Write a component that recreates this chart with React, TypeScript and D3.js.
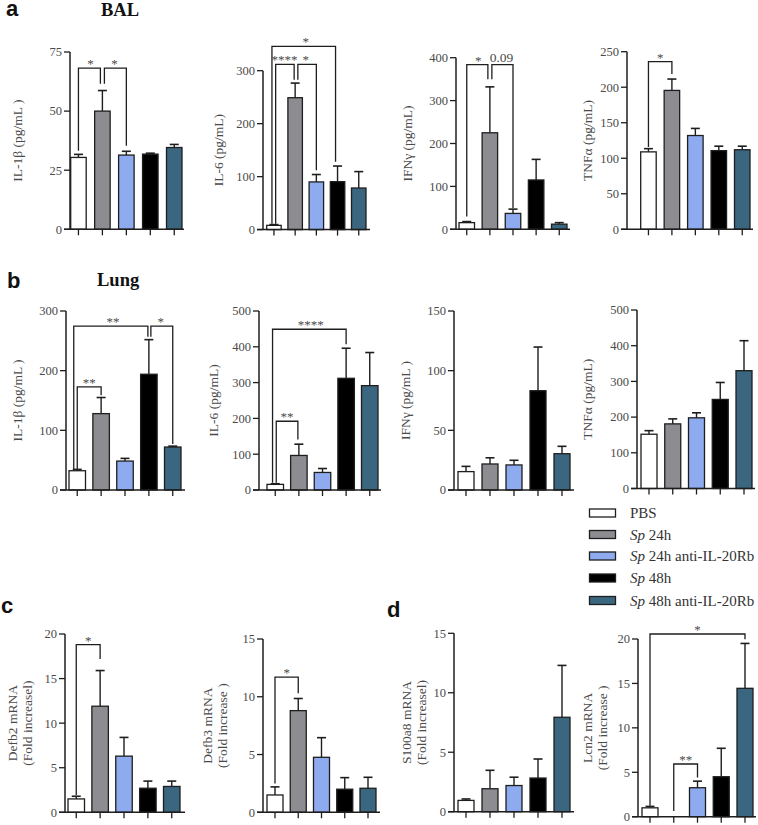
import React from "react";
import * as d3 from "d3";

// ---------- DATA ----------
const groups = ["PBS", "Sp 24h", "Sp 24h anti-IL-20Rb", "Sp 48h", "Sp 48h anti-IL-20Rb"];
const groupColors = ["#ffffff", "#8d8c91", "#8fabf0", "#000000", "#3b6680"];

const balIL1bMean = [30.4, 50, 31.4, 31.8, 34.6];
const balIL1bErr = [1.3, 8.7, 1.6, 0.4, 1.3];
const balIL6Mean = [8, 249, 90, 90.5, 78.5];
const balIL6Err = [1.5, 27.6, 14, 29.5, 31];
const balIFNgMean = [15.5, 225, 37, 115, 12];
const balIFNgErr = [2.5, 107, 10, 48, 3.5];
const balTNFaMean = [109, 195.5, 132, 110.7, 112];
const balTNFaErr = [4.5, 16, 10, 6.3, 5];

const lungIL1bMean = [32.3, 128, 48.5, 194, 72];
const lungIL1bErr = [2.2, 27, 4.5, 58, 1.5];
const lungIL6Mean = [15.7, 96.5, 49, 312, 291.5];
const lungIL6Err = [1.8, 31.5, 11, 84, 92.5];
const lungIFNgMean = [15.4, 21.8, 21, 83.2, 30.4];
const lungIFNgErr = [4.4, 5.2, 3.9, 36.6, 6.2];
const lungTNFaMean = [152, 181, 198, 249.5, 330];
const lungTNFaErr = [10, 14, 14, 47.5, 84];

const defb2Mean = [1.5, 11.9, 6.3, 2.7, 2.9];
const defb2Err = [0.3, 4, 2.1, 0.8, 0.6];
const defb3Mean = [1.5, 8.8, 4.76, 2.0, 2.08];
const defb3Err = [0.7, 1.05, 1.7, 1.0, 0.95];
const s100a8Mean = [0.95, 1.93, 2.2, 2.83, 7.94];
const s100a8Err = [0.12, 1.55, 0.7, 1.6, 4.36];
const lcn2Mean = [1.0, null, 3.26, 4.5, 14.45];
const lcn2Err = [0.16, null, 0.74, 3.2, 5.05];

// ticks
const balIL1bTicks = [0, 25, 50, 75];
const balIL6Ticks = [0, 100, 200, 300];
const balIFNgTicks = [0, 100, 200, 300, 400];
const balTNFaTicks = [0, 50, 100, 150, 200, 250];
const lungIL1bTicks = [0, 100, 200, 300];
const lungIL6Ticks = [0, 100, 200, 300, 400, 500];
const lungIFNgTicks = [0, 50, 100, 150];
const lungTNFaTicks = [0, 100, 200, 300, 400, 500];
const defb2Ticks = [0, 5, 10, 15, 20];
const defb3Ticks = [0, 5, 10, 15];
const s100a8Ticks = [0, 5, 10, 15];
const lcn2Ticks = [0, 5, 10, 15, 20];

// significance brackets: [from, to, level, leftEnd, rightEnd, label]
const balIL1bSig = [
  [0, 1, 68.2, 33.2, 61.6, "*"],
  [1, 2, 68.2, 61.6, 35.3, "*"],
];
const balIL6Sig = [
  [0, 3, 346, 11, 128, "*"],
  [0, 1, 312, 11, 283, "****"],
  [1, 2, 312, 283, 112, "*"],
];
const balIFNgSig = [
  [0, 1, 384, 30, 350, "*"],
  [1, 2, 384, 350, 49, "0.09"],
];
const balTNFaSig = [[0, 1, 236, 116, 218.5, "*"]];
const lungIL1bSig = [
  [0, 3, 274.6, 35, 257, "**"],
  [3, 4, 274.6, 257, 77, "*"],
  [0, 1, 173, 35, 159, "**"],
];
const lungIL6Sig = [
  [0, 3, 449, 20, 407, "****"],
  [0, 1, 192, 20, 141, "**"],
];
const defb2Sig = [[0, 1, 18.8, 1.9, 17.2, "*"]];
const defb3Sig = [[0, 1, 11.7, 2.5, 10.3, "*"]];
const lcn2Sig = [
  [0, 4, 20.56, 1.24, 19.96, "*"],
  [1, 2, 5.93, 0.64, 4.4, "**"],
];

// ---------- LAYOUT (pixels) ----------
const charts = [
  { mean: balIL1bMean, err: balIL1bErr, ticks: balIL1bTicks, sig: balIL1bSig, label: ["IL-1β (pg/mL )"],
    L: { axisX: 70, barL: 70.7, barR: 182, barW: 15.5, xEnd: 184, yTop: 52, y0: 229.3, labelX: [17] },
    off: [[0, -2], [2, 0]] },
  { mean: balIL6Mean, err: balIL6Err, ticks: balIL6Ticks, sig: balIL6Sig, label: ["IL-6 (pg/mL)"],
    L: { axisX: 263, barL: 266.7, barR: 366, barW: 14.5, xEnd: 370, yTop: 70.7, y0: 229.6, labelX: [218] },
    off: [[-2, -2], [1.7, -1], [2.7, 0]] },
  { mean: balIFNgMean, err: balIFNgErr, ticks: balIFNgTicks, sig: balIFNgSig, label: ["IFNγ (pg/mL)"],
    L: { axisX: 456, barL: 459, barR: 567, barW: 15.5, xEnd: 570, yTop: 57.7, y0: 229.3, labelX: [407] },
    off: [[0, -2], [2, 0]] },
  { mean: balTNFaMean, err: balTNFaErr, ticks: balTNFaTicks, sig: balTNFaSig, label: ["TNFα (pg/mL)"],
    L: { axisX: 627, barL: 640.7, barR: 750, barW: 15.5, xEnd: 753, yTop: 51.7, y0: 229.3, labelX: [587] },
    off: [[0, 0]] },
  { mean: lungIL1bMean, err: lungIL1bErr, ticks: lungIL1bTicks, sig: lungIL1bSig, label: ["IL-1β (pg/mL )"],
    L: { axisX: 66, barL: 69, barR: 181, barW: 16.5, xEnd: 185, yTop: 311, y0: 490, labelX: [17] },
    off: [[-3.5, -1], [2, 0], [0, 0]] },
  { mean: lungIL6Mean, err: lungIL6Err, ticks: lungIL6Ticks, sig: lungIL6Sig, label: ["IL-6 (pg/mL)"],
    L: { axisX: 259, barL: 267, barR: 378, barW: 16.5, xEnd: 381, yTop: 311, y0: 490, labelX: [213] },
    off: [[-2.7, 0], [1, -1]] },
  { mean: lungIFNgMean, err: lungIFNgErr, ticks: lungIFNgTicks, sig: [], label: ["IFNγ (pg/mL )"],
    L: { axisX: 454, barL: 458, barR: 570, barW: 16, xEnd: 574, yTop: 311, y0: 490, labelX: [405] },
    off: [] },
  { mean: lungTNFaMean, err: lungTNFaErr, ticks: lungTNFaTicks, sig: [], label: ["TNFα (pg/mL)"],
    L: { axisX: 637, barL: 641, barR: 752, barW: 16, xEnd: 755, yTop: 310, y0: 488.5, labelX: [587] },
    off: [] },
  { mean: defb2Mean, err: defb2Err, ticks: defb2Ticks, sig: defb2Sig, label: ["Defb2 mRNA", "(Fold increasel)"],
    L: { axisX: 65, barL: 68, barR: 180, barW: 16.5, xEnd: 185, yTop: 634, y0: 812.3, labelX: [12, 27] },
    off: [[0, 0]] },
  { mean: defb3Mean, err: defb3Err, ticks: defb3Ticks, sig: defb3Sig, label: ["Defb3 mRNA", "(Fold increase )"],
    L: { axisX: 263, barL: 267, barR: 376, barW: 16, xEnd: 380, yTop: 639, y0: 812.3, labelX: [207, 222] },
    off: [[0, 0]] },
  { mean: s100a8Mean, err: s100a8Err, ticks: s100a8Ticks, sig: [], label: ["S100a8 mRNA", "(Fold increasel)"],
    L: { axisX: 454, barL: 458, barR: 570, barW: 16, xEnd: 574, yTop: 633.3, y0: 811.7, labelX: [406, 421] },
    off: [] },
  { mean: lcn2Mean, err: lcn2Err, ticks: lcn2Ticks, sig: lcn2Sig, label: ["Lcn2 mRNA", "(Fold increase )"],
    L: { axisX: 638, barL: 642, barR: 753, barW: 16, xEnd: 756, yTop: 639, y0: 816.7, labelX: [587, 602] },
    off: [[0, 0], [0, 0]] },
];

const SERIF = "'Liberation Serif', 'Times New Roman', serif";
const SANS = "'Liberation Sans', Arial, sans-serif";
const INK = "#1e1e1e";
const TXT = "#4a4a4a";

function BarChart({ c }: { c: any }) {
  const L = c.L;
  const g = (L.barR - L.barL - 5 * L.barW) / 4;
  const pi = g / (L.barW + g);
  const x = d3.scaleBand<number>().domain([0, 1, 2, 3, 4]).range([L.barL, L.barR]).paddingInner(pi).paddingOuter(0);
  const maxV = c.ticks[c.ticks.length - 1];
  const y = d3.scaleLinear().domain([0, maxV]).range([L.y0, L.yTop]);
  const bw = x.bandwidth();
  const cx = (i: number) => (x(i) as number) + bw / 2;
  const yc = (L.yTop + L.y0) / 2;
  const capW = 9;
  return (
    <g>
      {c.mean.map((m: number | null, i: number) =>
        m == null ? null : (
          <g key={i}>
            <line x1={cx(i)} x2={cx(i)} y1={y(m)} y2={y(m + c.err[i])} stroke={INK} strokeWidth={1.4} />
            <line x1={cx(i) - capW / 2} x2={cx(i) + capW / 2} y1={y(m + c.err[i])} y2={y(m + c.err[i])} stroke={INK} strokeWidth={1.6} />
            <rect x={x(i)} y={y(m)} width={bw} height={L.y0 - y(m)} fill={groupColors[i]} stroke={INK} strokeWidth={1.3} />
          </g>
        )
      )}
      <line x1={L.axisX} x2={L.axisX} y1={L.yTop} y2={L.y0} stroke={INK} strokeWidth={1.5} />
      {c.ticks.map((t: number) => (
        <g key={t}>
          <line x1={L.axisX - 6} x2={L.axisX} y1={y(t)} y2={y(t)} stroke={INK} strokeWidth={1.3} />
          <text x={L.axisX - 8} y={y(t)} dy="0.35em" textAnchor="end" fontFamily={SERIF} fontSize={12.5} fill={TXT}>
            {t}
          </text>
        </g>
      ))}
      <line x1={L.axisX - 6} x2={L.xEnd} y1={L.y0} y2={L.y0} stroke={INK} strokeWidth={1.5} />
      {[0, 1, 2, 3, 4].map((i) => (
        <line key={i} x1={cx(i)} x2={cx(i)} y1={L.y0} y2={L.y0 + 6} stroke={INK} strokeWidth={1.3} />
      ))}
      {c.label.map((t: string, k: number) => (
        <text key={k} transform={`translate(${L.labelX[k]},${yc}) rotate(-90)`} dy="0.35em" textAnchor="middle"
          fontFamily={SERIF} fontSize={13.5} fill={TXT}>
          {t}
        </text>
      ))}
      {c.sig.map((s: any[], k: number) => {
        const [a, b, lv, ya, yb, lab] = s;
        const o = c.off[k] || [0, 0];
        const xa = cx(a) + o[0];
        const xb = cx(b) + o[1];
        return (
          <g key={k}>
            <path d={`M${xa},${y(ya)}V${y(lv)}H${xb}V${y(yb)}`} fill="none" stroke={INK} strokeWidth={1.3} />
            <text x={(cx(a) + cx(b)) / 2} y={y(lv) - (lab === "0.09" ? 2.5 : 0)} textAnchor="middle"
              fontFamily={SERIF} fontSize={lab === "0.09" ? 13.5 : 13} fill={TXT}>
              {lab}
            </text>
          </g>
        );
      })}
    </g>
  );
}

const legendY = [513, 534.5, 556, 578, 600.5];

export default function App() {
  return (
    <svg width={758} height={825} style={{ position: "absolute", left: 0, top: 0, background: "#fff" }}>
      <rect width={758} height={825} fill="#fff" />
      <text x={6} y={16} fontFamily={SANS} fontWeight="bold" fontSize={22} fill="#111">a</text>
      <text x={101} y={16} fontFamily={SERIF} fontWeight="bold" fontSize={18.5} fill="#111">BAL</text>
      <text x={7} y={288} fontFamily={SANS} fontWeight="bold" fontSize={22} fill="#111">b</text>
      <text x={97} y={286} fontFamily={SERIF} fontWeight="bold" fontSize={18.5} fill="#111">Lung</text>
      <text x={1} y={613} fontFamily={SANS} fontWeight="bold" fontSize={22} fill="#111">c</text>
      <text x={387} y={617} fontFamily={SANS} fontWeight="bold" fontSize={22} fill="#111">d</text>
      {charts.map((c, i) => (
        <BarChart key={i} c={c} />
      ))}
      {groups.map((gname, i) => {
        const parts = gname.startsWith("Sp ") ? ["Sp", gname.slice(2)] : [null, gname];
        return (
          <g key={i}>
            <rect x={589.5} y={legendY[i] - 4} width={26} height={8} fill={groupColors[i]} stroke={INK} strokeWidth={1.3} />
            <text x={630} y={legendY[i]} dy="0.35em" fontFamily={SERIF} fontSize={15} fill="#333">
              {parts[0] && <tspan fontStyle="italic">{parts[0]}</tspan>}
              {parts[1]}
            </text>
          </g>
        );
      })}
    </svg>
  );
}
